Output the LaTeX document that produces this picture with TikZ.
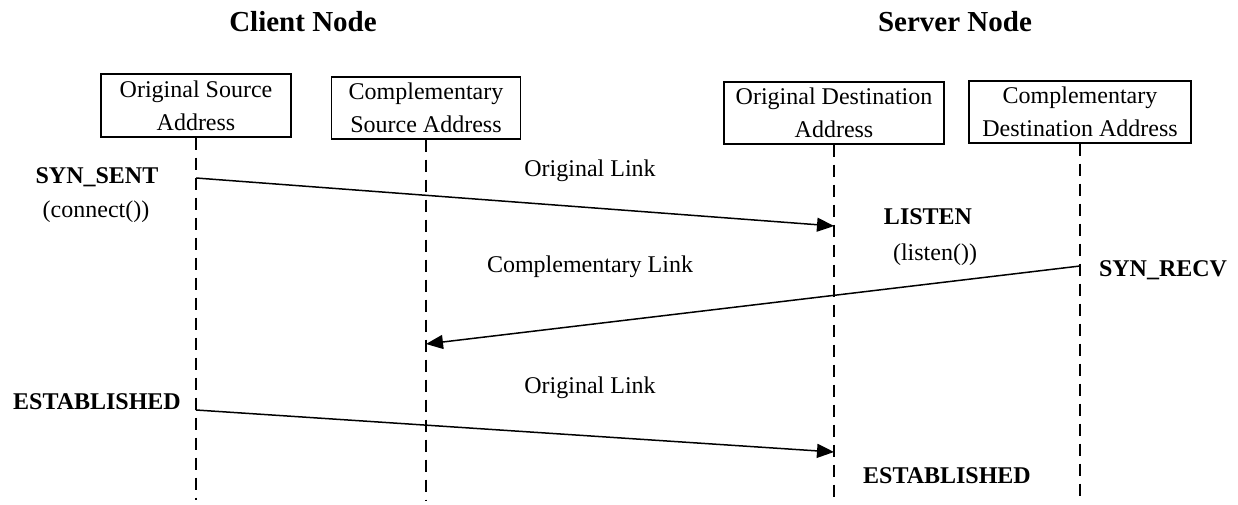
\documentclass[tikz,border=0pt]{standalone}
\usepackage{fontspec}
\setmainfont{Liberation Serif}
\usetikzlibrary{arrows.meta}
\begin{document}
\begin{tikzpicture}[x=1pt,y=-1pt,
  box/.style={draw,line width=1.4pt,inner sep=0pt,align=center,font=\fontsize{24}{33}\selectfont},
  life/.style={line width=1.6pt,dash pattern=on 12pt off 8pt},
  msg/.style={line width=1.5pt,-{Triangle[length=17pt,width=14pt]}},
  lbl/.style={font=\fontsize{24}{28}\selectfont},
  st/.style={font=\bfseries\fontsize{24}{28}\selectfont},
  ttl/.style={font=\bfseries\fontsize{29}{34}\selectfont}]
\useasboundingbox (0,0) rectangle (1238,505);
\node[ttl] (tc) at (303,22) {Client Node};
\node[ttl] (ts) at (955,22) {Server Node};
\node[box,minimum width=190pt,minimum height=63pt] (b1) at (196,105.5) {Original Source\\Address};
\node[box,minimum width=189pt,minimum height=62pt] (b2) at (426,108) {Complementary\\Source Address};
\node[box,minimum width=220pt,minimum height=62pt] (b3) at (834,113) {Original Destination\\Address};
\node[box,minimum width=222pt,minimum height=62pt] (b4) at (1080,112) {Complementary\\Destination Address};
\coordinate (e1) at (196,500);
\coordinate (e2) at (426,500);
\coordinate (e3) at (834,500);
\coordinate (e4) at (1080,500);
\draw[life] (b1.south) -- (e1);
\draw[life] (b2.south) -- (e2);
\draw[life] (b3.south) -- (e3);
\draw[life] (b4.south) -- (e4);
\coordinate (m1s) at (196,178);
\coordinate (m1e) at (834,226);
\coordinate (m2s) at (1080,266);
\coordinate (m2e) at (426,344);
\coordinate (m3s) at (196,410);
\coordinate (m3e) at (834,452);
\draw[msg] (m1s) -- (m1e);
\draw[msg] (m2s) -- (m2e);
\draw[msg] (m3s) -- (m3e);
\node[lbl] (l1) at (590,171) {Original Link};
\node[lbl] (l2) at (590,267) {Complementary Link};
\node[lbl] (l3) at (590,388) {Original Link};
\node[st] (s1) at (97,177) {SYN\_SENT};
\node[lbl] (s1b) at (96,212) {(connect())};
\node[st] (s2) at (928,217) {LISTEN};
\node[lbl] (s2b) at (935,255) {(listen())};
\node[st] (s3) at (1163,270) {SYN\_RECV};
\node[st] (s4) at (97,402) {ESTABLISHED};
\node[st] (s5) at (947,476) {ESTABLISHED};
\end{tikzpicture}
\end{document}
